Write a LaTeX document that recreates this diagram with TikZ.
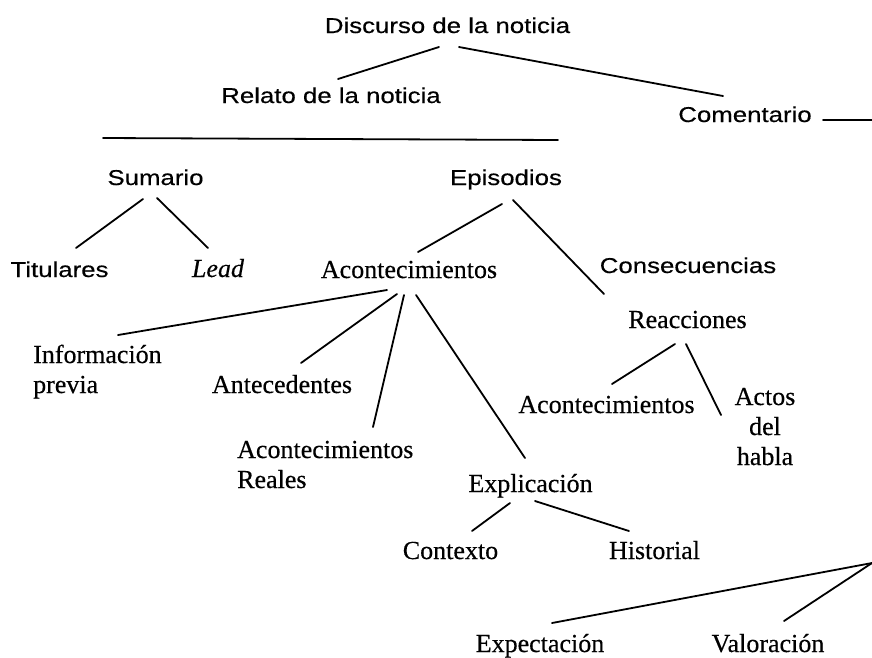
\documentclass[tikz,border=0pt]{standalone}
\usepackage{fontspec}
\setmainfont[FakeBold=0.4]{Liberation Serif}
\newfontfamily\headfont[FakeStretch=1.2, FakeBold=0.4]{Liberation Sans}
\tikzset{
  sanslbl/.style={font=\headfont\fontsize{21.5}{25}\selectfont, inner sep=0pt, anchor=base},
  serlbl/.style={font=\fontsize{26}{30}\selectfont, inner sep=0pt, anchor=base},
  branch/.style={line width=1.8pt, line cap=round}
}
\begin{document}
\begin{tikzpicture}[x=1pt, y=-1pt]
    \useasboundingbox[fill=white] (0,0) rectangle (872,657);
    % Upper levels of the news schema.
    \node[sanslbl] (disc) at (447.5,33) {Discurso de la noticia};
    \node[sanslbl] (rel) at (331,103) {Relato de la noticia};
    \node[sanslbl] (com) at (745,122) {Comentario};
    \node[sanslbl] (sum) at (155.5,185) {Sumario};
    \node[sanslbl] (epi) at (506,185) {Episodios};
    \node[sanslbl] (tit) at (59.5,277) {Titulares};
    \node[serlbl] (lead) at (218,277) {\textit{Lead}};
    \node[serlbl] (acon) at (409,278) {Acontecimientos};
    \node[sanslbl] (cons) at (688,273) {Consecuencias};
    % Lower levels (multi-line nodes sit on their last line).
    \node[serlbl, anchor=base west, align=left] (info) at (33,393) {Información\\previa};
    \node[serlbl] (ante) at (282,393) {Antecedentes};
    \node[serlbl, anchor=base west, align=left] (real) at (237,488) {Acontecimientos\\Reales};
    \node[serlbl] (expl) at (530.5,492) {Explicación};
    \node[serlbl] (cont) at (450.5,559) {Contexto};
    \node[serlbl] (hist) at (654.5,559) {Historial};
    \node[serlbl] (reac) at (687.5,328) {Reacciones};
    \node[serlbl] (acon2) at (606.5,413) {Acontecimientos};
    \node[serlbl, align=center] (actos) at (765,465) {Actos\\del\\habla};
    \node[serlbl] (expe) at (540,652) {Expectación};
    \node[serlbl] (valo) at (768,652) {Valoración};
    % Free ends that run off the page.
    \coordinate (comcut) at (872,120);
    \coordinate (cmt) at (872,563);
    % Draw the branches.
    \draw[branch] ([shift={(-8.5,14)}]disc.base) -- ([shift={(7,-24)}]rel.base);
    \draw[branch] ([shift={(11.5,14)}]disc.base) -- ([shift={(-22,-26)}]com.base);
    \draw[branch] ([shift={(-228,35)}]rel.base) -- ([shift={(227,37)}]rel.base);
    \draw[branch] ([shift={(-12.5,14)}]sum.base) -- ([shift={(16.5,-29)}]tit.base);
    \draw[branch] ([shift={(1.5,13)}]sum.base) -- ([shift={(-10,-29)}]lead.base);
    \draw[branch] ([shift={(-4,19)}]epi.base) -- ([shift={(9,-26)}]acon.base);
    \draw[branch] ([shift={(7,15)}]epi.base) -- ([shift={(-84,21)}]cons.base);
    \draw[branch] ([shift={(-22,12)}]acon.base) -- ([shift={(85,-58)}]info.base west);
    \draw[branch] ([shift={(-12,16)}]acon.base) -- ([shift={(19,-30)}]ante.base);
    \draw[branch] ([shift={(-5,17)}]acon.base) -- ([shift={(136,-61)}]real.base west);
    \draw[branch] ([shift={(7,17)}]acon.base) -- ([shift={(-5.5,-34)}]expl.base);
    \draw[branch] ([shift={(-20.5,11)}]expl.base) -- ([shift={(21.5,-28)}]cont.base);
    \draw[branch] ([shift={(4.5,9)}]expl.base) -- ([shift={(-25.5,-28)}]hist.base);
    \draw[branch] ([shift={(-12.5,16)}]reac.base) -- ([shift={(5.5,-29)}]acon2.base);
    \draw[branch] ([shift={(-1.5,16)}]reac.base) -- ([shift={(-44,-50)}]actos.base);
    \draw[branch] ([shift={(78,-2)}]com.base) -- (comcut);
    \draw[branch] (cmt) -- ([shift={(12,-29)}]expe.base);
    \draw[branch] (cmt) -- ([shift={(16,-31)}]valo.base);
\end{tikzpicture}
\end{document}
